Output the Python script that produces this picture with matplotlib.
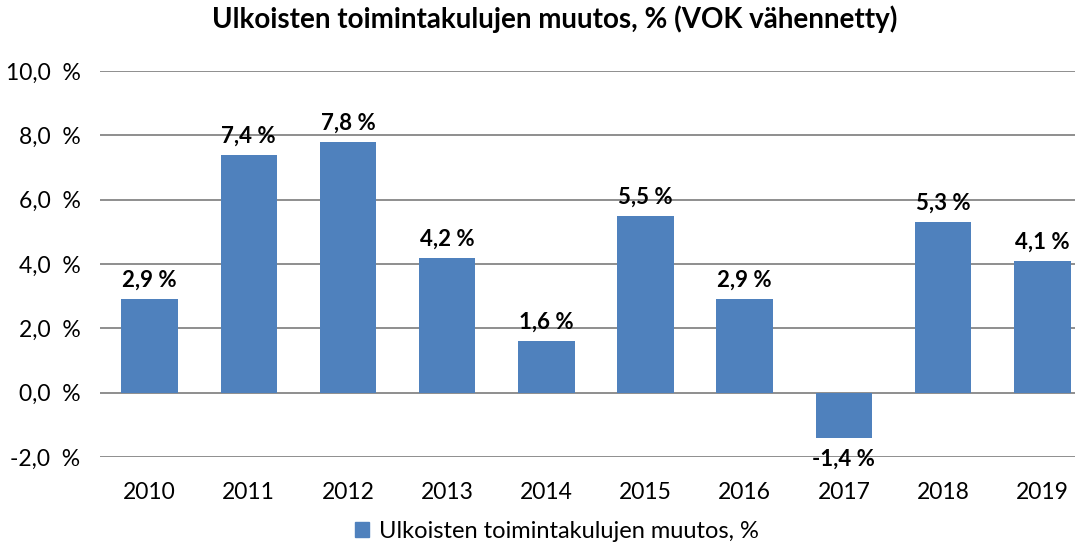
import matplotlib
matplotlib.use("Agg")
import matplotlib.pyplot as plt
from matplotlib.patches import Patch

years = ["2010", "2011", "2012", "2013", "2014", "2015", "2016", "2017", "2018", "2019"]
values = [2.9, 7.4, 7.8, 4.2, 1.6, 5.5, 2.9, -1.4, 5.3, 4.1]
yticks = [-2, 0, 2, 4, 6, 8, 10]

plt.rcParams["font.family"] = ["Lato", "DejaVu Sans"]

fig = plt.figure(figsize=(10.81, 5.43), dpi=100)
ax = fig.add_axes([100 / 1081, 86 / 543, 975 / 1081, 386 / 543])

x = range(len(years))
ax.bar(x, values, width=0.57, color="#4F81BD", zorder=3)

for i, v in zip(x, values):
    label = f"{v:.1f} %".replace(".", ",")
    if v >= 0:
        ax.annotate(label, (i, v), xytext=(0, 6), textcoords="offset points",
                    ha="center", va="bottom", fontsize=16, fontweight="bold")
    else:
        ax.annotate(label, (i, v), xytext=(0, -8), textcoords="offset points",
                    ha="center", va="top", fontsize=16, fontweight="bold")

ax.set_xlim(-0.5, 9.33)
ax.set_ylim(-2, 10)
ax.set_yticks(yticks)
ax.set_yticklabels([f"{t:.1f}  %".replace(".", ",") for t in yticks], fontsize=16.5)
ax.set_xticks(list(x))
ax.set_xticklabels(years, fontsize=16.5)
ax.tick_params(length=0, pad=14, axis="y")
ax.tick_params(length=0, pad=18, axis="x")
ax.grid(axis="y", color="#868686", linewidth=1.3, zorder=0)
for s in ax.spines.values():
    s.set_visible(False)

fig.suptitle("Ulkoisten toimintakulujen muutos, % (VOK vähennetty)",
             fontsize=20, fontweight="bold", x=555 / 1081, y=0.99, va="top")

fig.legend(handles=[Patch(color="#4F81BD", label="Ulkoisten toimintakulujen muutos, %")],
           loc="center", bbox_to_anchor=(557 / 1081, 12 / 543), frameon=False,
           fontsize=17, handlelength=0.6, handleheight=0.6, handletextpad=0.4)

fig.savefig("out.png", dpi=100)
